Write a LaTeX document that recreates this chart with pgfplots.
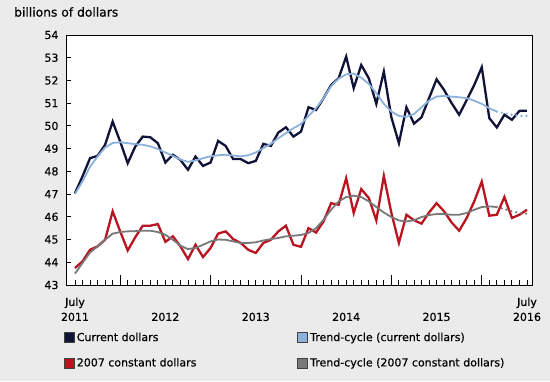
\documentclass[border=0pt]{standalone}
\usepackage{pgfplots}
\pgfplotsset{compat=1.18}
\usepackage{pgfplotstable}
\usepackage{fontspec}
\setmainfont{DejaVu Sans}[FakeBold=0.5]
\definecolor{bg}{RGB}{235,235,235}
\definecolor{curline}{RGB}{16,18,56}
\definecolor{curfill}{RGB}{12,20,90}
\definecolor{tcline}{RGB}{140,178,220}
\definecolor{tcfill}{RGB}{160,195,235}
\definecolor{kline}{RGB}{185,20,32}
\definecolor{kfill}{RGB}{220,20,20}
\definecolor{tkline}{RGB}{120,120,120}
\definecolor{tkfill}{RGB}{150,150,150}

\pgfplotstableread{
i c k
0 47.04 43.75
1 47.78 44.04
2 48.58 44.55
3 48.68 44.70
4 49.17 44.99
5 50.19 46.24
6 49.31 45.36
7 48.36 44.52
8 49.09 45.10
9 49.53 45.61
10 49.50 45.61
11 49.24 45.68
12 48.39 44.90
13 48.73 45.14
14 48.50 44.70
15 48.07 44.14
16 48.65 44.77
17 48.24 44.23
18 48.39 44.63
19 49.34 45.26
20 49.12 45.36
21 48.54 45.02
22 48.54 44.85
23 48.36 44.55
24 48.46 44.41
25 49.21 44.85
26 49.12 44.99
27 49.71 45.36
28 49.94 45.61
29 49.53 44.77
30 49.75 44.68
31 50.82 45.50
32 50.70 45.31
33 51.22 45.80
34 51.80 46.60
35 52.10 46.53
36 53.05 47.70
37 51.66 46.17
38 52.68 47.22
39 52.10 46.83
40 50.97 45.84
41 52.39 47.80
42 50.38 46.17
43 49.24 44.85
44 50.82 46.09
45 50.10 45.85
46 50.38 45.70
47 51.22 46.19
48 52.05 46.60
49 51.58 46.24
50 51.00 45.75
51 50.49 45.39
52 51.14 45.95
53 51.80 46.68
54 52.58 47.55
55 50.34 46.05
56 49.93 46.09
57 50.49 46.87
58 50.27 45.95
59 50.66 46.09
60 50.67 46.31
}\actual

\pgfplotstableread{
i tc tk
0 47.00 43.50
1 47.56 43.97
2 48.21 44.43
3 48.65 44.70
4 49.05 44.99
5 49.25 45.26
6 49.28 45.33
7 49.24 45.36
8 49.20 45.37
9 49.17 45.39
10 49.10 45.39
11 48.98 45.33
12 48.83 45.21
13 48.68 44.99
14 48.52 44.73
15 48.42 44.58
16 48.48 44.63
17 48.58 44.77
18 48.66 44.92
19 48.71 45.00
20 48.73 44.99
21 48.70 44.92
22 48.66 44.85
23 48.71 44.85
24 48.83 44.88
25 49.02 44.96
26 49.21 45.02
27 49.46 45.07
28 49.68 45.14
29 49.90 45.17
30 50.08 45.20
31 50.44 45.29
32 50.78 45.50
33 51.22 45.87
34 51.75 46.31
35 52.08 46.68
36 52.27 46.87
37 52.30 46.93
38 52.12 46.87
39 51.85 46.68
40 51.44 46.43
41 50.97 46.19
42 50.63 45.99
43 50.44 45.84
44 50.40 45.80
45 50.52 45.85
46 50.82 45.99
47 51.11 46.08
48 51.29 46.12
49 51.32 46.12
50 51.29 46.09
51 51.26 46.09
52 51.22 46.17
53 51.11 46.31
54 50.97 46.43
55 50.78 46.46
56 50.63 46.43
}\trend

\pgfplotstableread{
i tc tk
56 50.63 46.43
57 50.56 46.34
58 50.49 46.24
59 50.44 46.17
60 50.44 46.14
}\trendext

\begin{document}
\begin{tikzpicture}[x=1pt,y=1pt]
\fill[bg] (0,0) rectangle (550,381);
\node[anchor=west, font=\fontsize{12.3}{14}\selectfont, inner sep=0pt] at (14,369) {billions of dollars};
\begin{axis}[
  at={(67pt,96pt)}, anchor=south west,
  scale only axis, width=466pt, height=250pt,
  xmin=-1.06, xmax=60.8, ymin=43, ymax=54,
  axis background/.style={fill=white},
  axis line style={line width=1pt, black},
  tick align=inside,
  xtick pos=bottom, ytick pos=left,
  ytick={43,...,54},
  /pgf/number format/assume math mode=true,
  yticklabel style={font=\fontsize{11}{12}\selectfont, xshift=-5pt},
  xtick={0,12,24,36,48,60},
  xticklabels={{July\\2011},{\vphantom{July}\\2012},{\vphantom{July}\\2013},{\vphantom{July}\\2014},{\vphantom{July}\\2015},{July\\2016}},
  xticklabel style={align=center, font=\fontsize{11}{15}\selectfont, yshift=-9pt},
  minor xtick={0,...,60},
  major tick length=4.5pt, minor tick length=4.5pt,
  extra x ticks={6,18,30,42,54},
  extra x tick labels={},
  extra x tick style={major tick length=10pt},
  tick style={black, line width=0.9pt},
  legend columns=2,
  legend cell align=left,
  legend style={at={(-0.013,-0.174)}, anchor=north west, draw=none, fill=none,
    font=\fontsize{11}{12}\selectfont, row sep=11.5pt,
    /tikz/every even column/.append style={column sep=99pt}},
  sq/.style={legend image code/.code={\draw[draw=black!75, line width=0.7pt, fill=##1] (0pt,-5pt) rectangle (10pt,5pt);}},
]
\addplot[curline, line width=2.3pt, sq=curfill] table[x=i, y=c] {\actual};
\addlegendentry{Current dollars}
\addplot[tcline, line width=1.8pt, sq=tcfill] table[x=i, y=tc] {\trend};
\addlegendentry{Trend-cycle (current dollars)}
\addplot[kline, line width=2.3pt, sq=kfill] table[x=i, y=k] {\actual};
\addlegendentry{2007 constant dollars}
\addplot[tkline, line width=1.8pt, sq=tkfill] table[x=i, y=tk] {\trend};
\addlegendentry{Trend-cycle (2007 constant dollars)}
\addplot[forget plot, tcline, line width=2.6pt, line cap=round, dash pattern=on 0pt off 5pt] table[x=i, y=tc] {\trendext};
\addplot[forget plot, tkline, line width=2.6pt, line cap=round, dash pattern=on 0pt off 5pt] table[x=i, y=tk] {\trendext};
\end{axis}
\end{tikzpicture}
\end{document}
